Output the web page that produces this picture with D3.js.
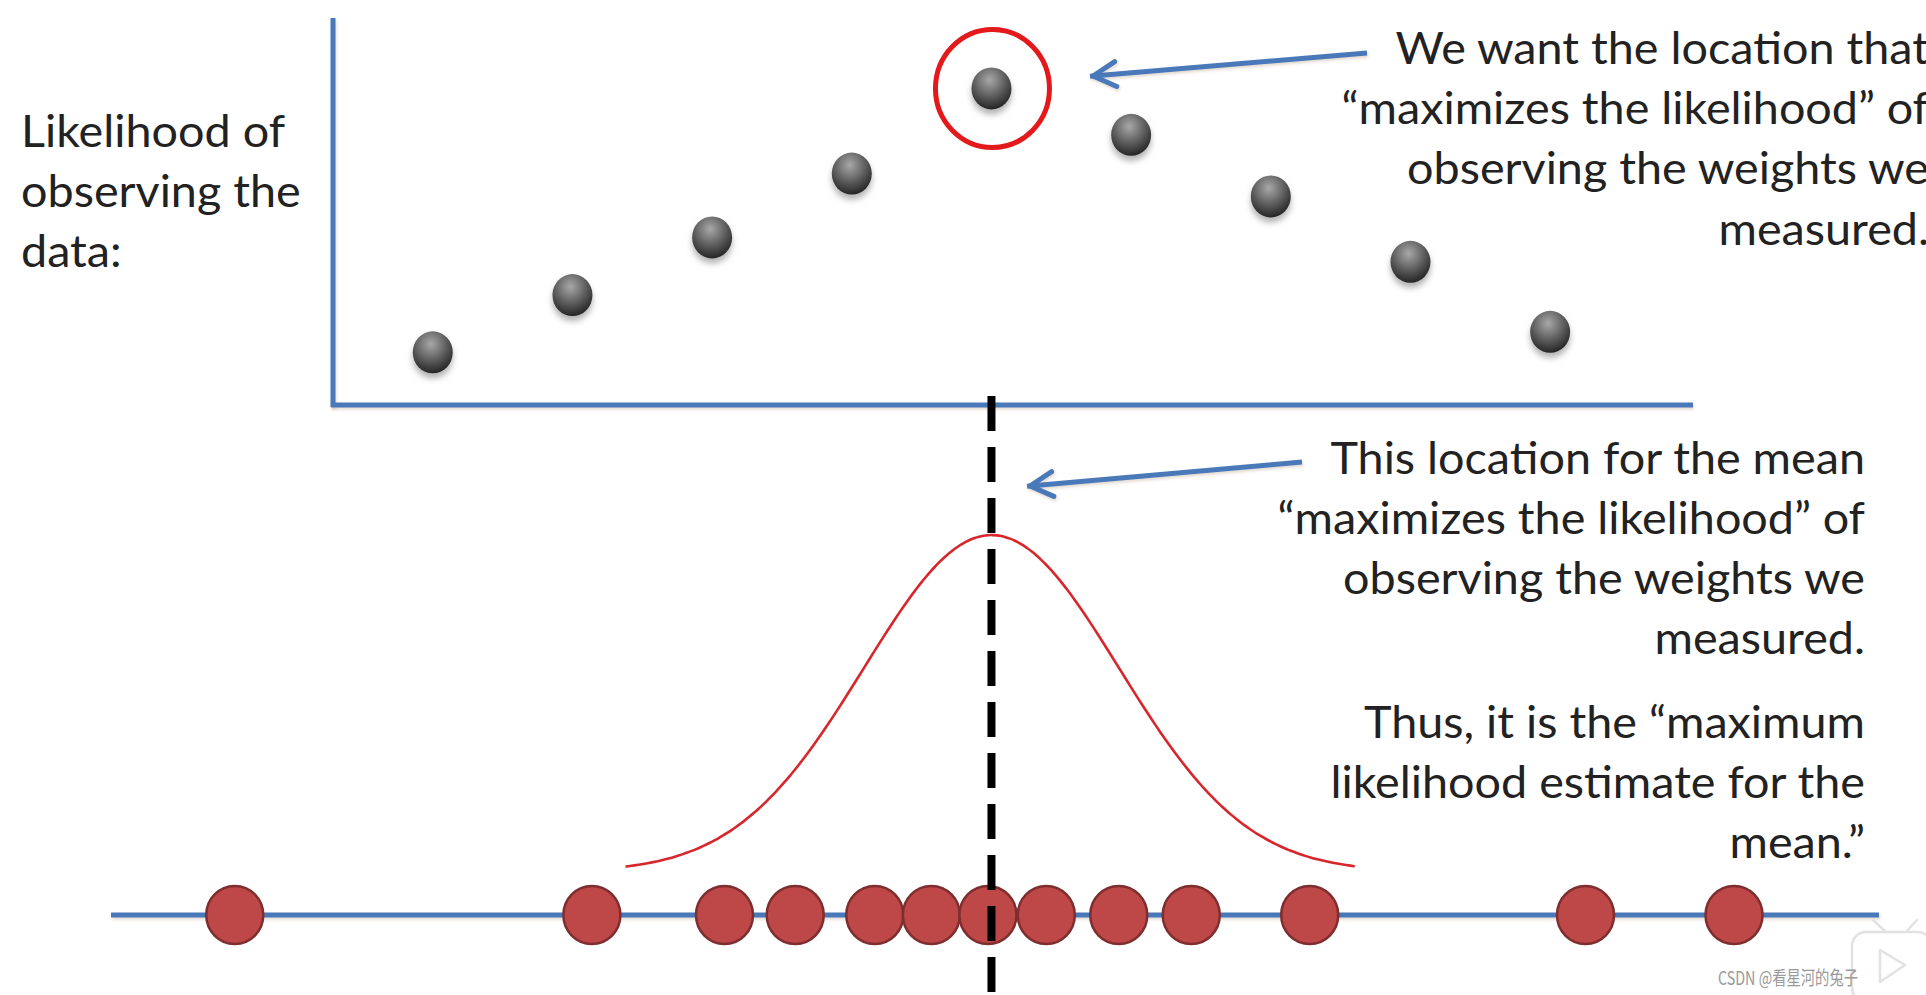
<!DOCTYPE html>
<html><head><meta charset="utf-8">
<script src="https://cdn.jsdelivr.net/npm/d3@7"></script>
<style>html,body{margin:0;padding:0;background:#fff;overflow:hidden}</style>
</head><body>
<svg id="c" width="1926" height="995"></svg>
<script>
// ---------- data ----------
const weights = [7.0, 27.2, 34.7, 38.7, 43.2, 46.4, 49.6, 52.9, 57.0, 61.1, 67.8, 83.4, 91.8];
const candidateMeans = [18.2, 26.1, 34.0, 41.9, 49.8, 57.7, 65.6, 73.5, 81.4];
const likelihoods = [0.136, 0.284, 0.433, 0.598, 0.818, 0.698, 0.539, 0.370, 0.189];
const bestMean = 49.8;
const curveSigma = 7.2;
const curveExtent = [29.1, 70.4];
const yLabelLines = ["Likelihood of", "observing the", "data:"];
const topNoteLines = ["We want the location that", "\u201Cmaximizes the likelihood\u201D of", "observing the weights we", "measured."];
const bottomNoteLines = ["This location for the mean", "\u201Cmaximizes the likelihood\u201D of", "observing the weights we", "measured."];
const conclusionLines = ["Thus, it is the \u201Cmaximum", "likelihood estimate for the", "mean.\u201D"];
const watermark = "CSDN @看星河的兔子";

// ---------- layout ----------
const W = 1926, H = 995;
const svg = d3.select("#c");
const blue = "#4a79b9";
const textColor = "#222";
const font = "Lato, 'Noto Sans', sans-serif";

const x = d3.scaleLinear().domain([0, 100]).range([111, 1879]);
const yLik = d3.scaleLinear().domain([0, 1]).range([405, 18]);
const yCurve = d3.scaleLinear().domain([0, 1]).range([872, 535]);
const lineY = 915;

const defs = svg.append("defs");
const sh = defs.append("filter").attr("id", "lineShadow").attr("filterUnits", "userSpaceOnUse")
  .attr("x", 0).attr("y", 0).attr("width", W).attr("height", H);
sh.append("feDropShadow").attr("dx", 1).attr("dy", 2).attr("stdDeviation", 1.5).attr("flood-color", "#8a6a40").attr("flood-opacity", 0.25);
const dsh = defs.append("filter").attr("id", "dotShadow").attr("x", "-50%").attr("y", "-50%").attr("width", "200%").attr("height", "220%");
dsh.append("feDropShadow").attr("dx", 0).attr("dy", 5).attr("stdDeviation", 3).attr("flood-color", "#000").attr("flood-opacity", 0.3);
const g1 = defs.append("radialGradient").attr("id", "grayBall").attr("cx", "45%").attr("cy", "30%").attr("r", "75%");
g1.append("stop").attr("offset", "0%").attr("stop-color", "#a8a8a8");
g1.append("stop").attr("offset", "55%").attr("stop-color", "#5a5a5a");
g1.append("stop").attr("offset", "100%").attr("stop-color", "#1c1c1c");

// ---------- top panel axes ----------
const panelLeft = 333, panelRight = 1693;
svg.append("line").attr("x1", panelLeft).attr("x2", panelLeft).attr("y1", yLik.range()[1]).attr("y2", yLik.range()[0] + 2)
  .attr("stroke", blue).attr("stroke-width", 5).attr("filter", "url(#lineShadow)");
svg.append("line").attr("x1", panelLeft - 2).attr("x2", panelRight).attr("y1", yLik(0)).attr("y2", yLik(0))
  .attr("stroke", blue).attr("stroke-width", 5).attr("filter", "url(#lineShadow)");

// likelihood points
svg.append("g").selectAll("ellipse").data(candidateMeans).join("ellipse")
  .attr("cx", d => x(d)).attr("cy", (d, i) => yLik(likelihoods[i])).attr("rx", 20).attr("ry", 21)
  .attr("fill", "url(#grayBall)").attr("filter", "url(#dotShadow)");

// red ring around the max
const iMax = likelihoods.indexOf(d3.max(likelihoods));
svg.append("ellipse").attr("cx", x(candidateMeans[iMax]) + 1).attr("cy", yLik(likelihoods[iMax]))
  .attr("rx", 57).attr("ry", 59).attr("fill", "none").attr("stroke", "#e3191c").attr("stroke-width", 5);

// ---------- bottom number line ----------
svg.append("line").attr("x1", x(0)).attr("x2", x(100)).attr("y1", lineY).attr("y2", lineY)
  .attr("stroke", blue).attr("stroke-width", 5).attr("filter", "url(#lineShadow)");

// normal curve
const pts = d3.range(curveExtent[0], curveExtent[1] + 0.001, 0.25).map(v => [v, Math.exp(-((v - bestMean) ** 2) / (2 * curveSigma ** 2))]);
svg.append("path").datum(pts)
  .attr("d", d3.line().x(d => x(d[0])).y(d => yCurve(d[1])).curve(d3.curveBasis))
  .attr("fill", "none").attr("stroke", "#d7262c").attr("stroke-width", 2.6);

// data points
svg.append("g").selectAll("ellipse").data(weights).join("ellipse")
  .attr("cx", d => x(d)).attr("cy", lineY).attr("rx", 28.5).attr("ry", 29)
  .attr("fill", "#be4748").attr("stroke", "#7e2e2e").attr("stroke-width", 2.5);

// dashed vertical line at the MLE
svg.append("line").attr("x1", x(bestMean)).attr("x2", x(bestMean)).attr("y1", 396).attr("y2", H)
  .attr("stroke", "#000").attr("stroke-width", 8).attr("stroke-dasharray", "35,16");

// ---------- arrows ----------
function arrow(x1, y1, x2, y2) {
  const a = Math.atan2(y2 - y1, x2 - x1), L = 26, s = 0.5;
  const p1 = [x2 - L * Math.cos(a - s), y2 - L * Math.sin(a - s)];
  const p2 = [x2 - L * Math.cos(a + s), y2 - L * Math.sin(a + s)];
  const g = svg.append("g").attr("filter", "url(#lineShadow)");
  g.append("path").attr("d", `M${x1},${y1}L${x2 + 3 * Math.cos(a)},${y2 + 3 * Math.sin(a)}`)
    .attr("stroke", blue).attr("stroke-width", 5).attr("fill", "none");
  g.append("path").attr("d", `M${p1[0]},${p1[1]}L${x2},${y2}L${p2[0]},${p2[1]}`)
    .attr("stroke", blue).attr("stroke-width", 5).attr("fill", "none").attr("stroke-linecap", "round").attr("stroke-linejoin", "round");
}
arrow(1367, 53, 1093, 76);
arrow(1302, 462, 1030, 486);

// ---------- texts ----------
const allTexts = [];
function block(lines, xPos, baselines, anchor) {
  lines.forEach((t, i) => {
    const el = svg.append("text").attr("x", xPos).attr("y", baselines[i]).attr("text-anchor", anchor)
      .attr("font-family", font).attr("font-size", 45).attr("fill", textColor).text(t);
    allTexts.push(el);
  });
}

block(yLabelLines, 21, [147, 207, 267], "start");
block(topNoteLines, 1929, [64, 124, 184, 245], "end");
block(bottomNoteLines, 1865, [474, 534, 594, 654], "end");
block(conclusionLines, 1865, [738, 798, 858], "end");

// horizontally fit the font so "observing the weights we" is ~522px wide
const ref = allTexts.find(t => t.text() === "observing the weights we");
const factor = 522 / ref.node().getComputedTextLength();
allTexts.forEach(t => {
  const len = t.node().getComputedTextLength();
  t.attr("textLength", len * factor).attr("lengthAdjust", "spacingAndGlyphs");
});

// ---------- bilibili-like badge & CSDN watermark ----------
const badge = svg.append("g").attr("fill", "none").attr("stroke", "#e2e2e2").attr("stroke-width", 2.5);
badge.append("rect").attr("x", 1852).attr("y", 932).attr("width", 80).attr("height", 70).attr("rx", 14)
  .attr("fill", "#fff").attr("fill-opacity", 0.85);
badge.append("path").attr("d", "M1873,920L1886,932M1906,932L1917,920").attr("stroke-linecap", "round");
badge.append("path").attr("d", "M1880,950L1905,965L1880,982Z").attr("stroke-linejoin", "round");

svg.append("text").attr("x", 1858).attr("y", 985).attr("text-anchor", "end")
  .attr("font-family", "'Noto Sans CJK SC', sans-serif").attr("font-size", 19).attr("fill", "#9a9a9a")
  .attr("textLength", 140).attr("lengthAdjust", "spacingAndGlyphs").text(watermark);
</script>
</body></html>
